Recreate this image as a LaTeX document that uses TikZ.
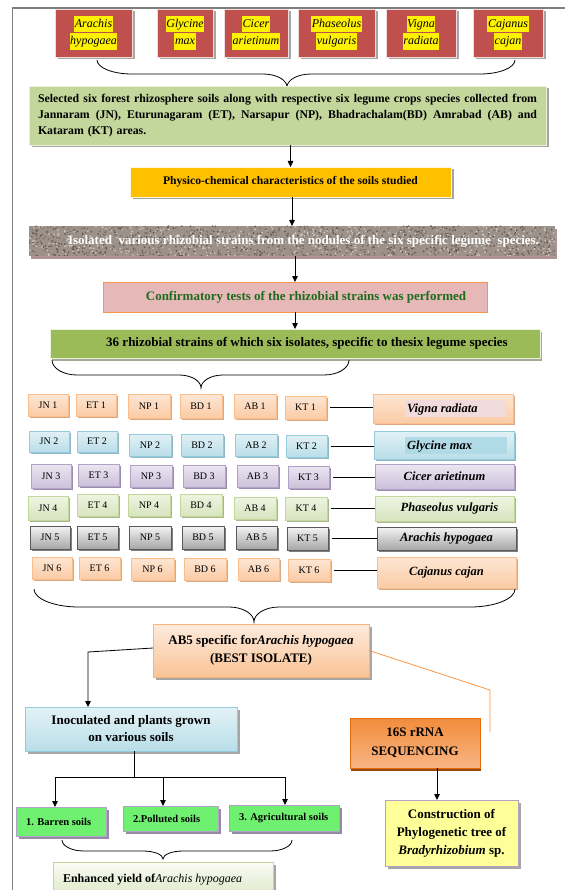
\documentclass[tikz,border=0pt]{standalone}
\usepackage{fontspec}
\setmainfont{Liberation Serif}
\usetikzlibrary{arrows.meta,shadows}
\definecolor{framec}{HTML}{7F7F7F}
\definecolor{cRed}{HTML}{C0504D}
\definecolor{cRedL}{HTML}{F2DCDB}
\definecolor{shGray}{HTML}{A6A6A6}
\definecolor{g1fill}{HTML}{C3D69B}
\definecolor{g1draw}{HTML}{EBF1DE}
\definecolor{yelfill}{HTML}{FFC000}
\definecolor{pinkF}{HTML}{E6B9B8}
\definecolor{pinkB}{HTML}{F79646}
\definecolor{oliveF}{HTML}{9BBB59}
\definecolor{txtgreen}{HTML}{1E6B1E}
\definecolor{granbase}{HTML}{9C928A}
\definecolor{gr0}{HTML}{5E544D}
\definecolor{gr1}{HTML}{D2CAC1}
\definecolor{gr2}{HTML}{7A6F68}
\definecolor{granshadow}{HTML}{B09393}
\definecolor{oT}{HTML}{FDE6D4}
\definecolor{oB}{HTML}{FBCBA5}
\definecolor{oD}{HTML}{F9BE8C}
\definecolor{oS}{HTML}{D6A987}
\definecolor{bT}{HTML}{E2F1F5}
\definecolor{bB}{HTML}{B9DEE9}
\definecolor{bD}{HTML}{93CDDD}
\definecolor{bS}{HTML}{8FB8C4}
\definecolor{pT}{HTML}{EBE6F1}
\definecolor{pB}{HTML}{CCC1DA}
\definecolor{pD}{HTML}{B3A2C7}
\definecolor{pS}{HTML}{9C8DB0}
\definecolor{gT}{HTML}{EEF4E2}
\definecolor{gB}{HTML}{D8E4BE}
\definecolor{gD}{HTML}{C3D69B}
\definecolor{gS}{HTML}{A8B88C}
\definecolor{kT}{HTML}{F4F4F4}
\definecolor{kB}{HTML}{A6A6A6}
\definecolor{kD}{HTML}{595959}
\definecolor{kS}{HTML}{7F7F7F}
\definecolor{hlpink}{HTML}{F2DCDB}
\definecolor{hlblue}{HTML}{B0DAE6}
\definecolor{abT}{HTML}{FDEBDD}
\definecolor{abB}{HTML}{FAC396}
\definecolor{abD}{HTML}{F9B47A}
\definecolor{seqT}{HTML}{F28C3C}
\definecolor{seqB}{HTML}{F9B584}
\definecolor{seqD}{HTML}{E36C09}
\definecolor{seqS}{HTML}{984807}
\definecolor{conF}{HTML}{FFFF99}
\definecolor{soilF}{HTML}{70F070}
\definecolor{enT}{HTML}{FBFCF7}
\definecolor{enB}{HTML}{D7E4BD}
\definecolor{orline}{HTML}{F79646}
\newcommand\fsz[2]{\fontsize{#1}{#2}\selectfont}
\newcommand\yhl[1]{{\fboxsep=0.6pt\colorbox{yellow}{\strut #1}}}
\newcommand\jline[1]{\leavevmode\hbox to 499pt{\spaceskip=0.25em plus 3em minus 0.05em #1}}
\newcommand\mkbox[7][]{\node[#1, minimum width={(#5)-(#3)}, minimum height={(#6)-(#4)}] (#2) at ({((#3)+(#5))/2},{((#4)+(#6))/2}) {#7};}
\newcommand\drawbrace[8]{%
 \draw[brc] (#1,#3) .. controls (#1,{#3+0.552*(#4-#3)}) and ({#1+0.448*#7},#4) .. ({#1+#7},#4)
 -- ({#5-#8},#4) .. controls ({#5-0.448*#8},#4) and (#5,{#4+0.448*(#6-#4)}) .. (#5,#6)
 .. controls (#5,{#4+0.448*(#6-#4)}) and ({#5+0.448*#8},#4) .. ({#5+#8},#4)
 -- ({#2-#7},#4) .. controls ({#2-0.448*#7},#4) and (#2,{#3+0.552*(#4-#3)}) .. (#2,#3);}
\tikzset{
 base/.style={inner sep=0pt, outer sep=0pt, align=center},
 arr/.style={-{Triangle[length=6pt,width=5.5pt]}, line width=0.8pt},
 brc/.style={line width=0.8pt},
 lnk/.style={line width=0.8pt},
 shd/.style={drop shadow={shadow xshift=#1, shadow yshift=-#1, opacity=1, fill=shGray}},
 redbox/.style={base, fill=cRed, draw=cRedL, line width=0.7pt, shd=2.5pt, font=\fsz{12pt}{15pt}\itshape},
 g1box/.style={base, fill=g1fill, draw=g1draw, line width=0.8pt, shd=2.5pt, font=\fsz{11.8pt}{16pt}\bfseries},
 yelbox/.style={base, fill=yelfill, draw=white!85!yelfill, line width=0.8pt, shd=2.5pt, font=\fsz{11.6pt}{14pt}\bfseries},
 granbox/.style={base, font=\fsz{13pt}{15pt}\bfseries, text=white},
 pinkbox/.style={base, fill=pinkF, draw=pinkB, line width=0.7pt, font=\fsz{13pt}{15pt}\bfseries, text=txtgreen},
 olivebox/.style={base, fill=oliveF, draw=g1draw, line width=0.8pt, drop shadow={shadow xshift=1.5pt, shadow yshift=-2.5pt, opacity=1, fill=shGray!80!oliveF}, font=\fsz{13pt}{15pt}\bfseries},
 cell/.style n args={4}{base, top color=#1, bottom color=#2, draw=#3, line width=0.9pt, drop shadow={shadow xshift=2pt, shadow yshift=-2pt, opacity=1, fill=#4}, font=\fsz{10pt}{12pt}},
 oc/.style={cell={oT}{oB}{oD}{oS}},
 bc/.style={cell={bT}{bB}{bD}{bS}},
 pc/.style={cell={pT}{pB}{pD}{pS}},
 gc/.style={cell={gT}{gB}{gD}{gS}},
 kc/.style={cell={kT}{kB}{kD}{kS}},
 spf/.style={font=\fsz{12.5pt}{15pt}\bfseries\itshape},
 ab5box/.style={base, top color=abT, bottom color=abB, draw=abD, line width=0.8pt, shd=2.5pt, font=\fsz{13pt}{18pt}\bfseries},
 inobox/.style={base, top color=white!60!bB, bottom color=bB, draw=bD, line width=0.9pt, shd=2.5pt, font=\fsz{13pt}{17pt}\bfseries},
 seqbox/.style={base, top color=seqT, bottom color=seqB, draw=seqD, line width=0.7pt, drop shadow={shadow xshift=1pt, shadow yshift=-3pt, opacity=1, fill=seqS}, font=\fsz{13pt}{19pt}\bfseries},
 conbox/.style={base, fill=conF, draw=pD, line width=1pt, shd=2.5pt, font=\fsz{13pt}{18pt}\bfseries},
 soilbox/.style={base, fill=soilF, draw=pD, line width=1pt, drop shadow={shadow xshift=2.5pt, shadow yshift=-2.5pt, opacity=1, fill=pS!80!gray}, font=\fsz{10.5pt}{12pt}\bfseries},
 enbox/.style={base, top color=enT, bottom color=enB, draw=gD, line width=1pt, shd=2.5pt, font=\fsz{12pt}{14pt}\bfseries},
}
\begin{document}
\begin{tikzpicture}[x=1pt,y=-1pt]
\useasboundingbox (0,0) rectangle (565,890);
\fill[white] (0,0) rectangle (565,890);
\draw[framec, line width=1.3pt] (12.6,890) -- (12.6,8) -- (565,8);

% top species boxes
\mkbox[redbox]{t1}{55}{9}{132}{57}{\yhl{Arachis}\\\yhl{hypogaea}}
\mkbox[redbox]{t2}{157}{9}{213}{57}{\yhl{Glycine}\\\yhl{max}}
\mkbox[redbox]{t3}{224}{9}{288}{57}{\yhl{Cicer}\\\yhl{arietinum}}
\mkbox[redbox]{t4}{298}{9}{375}{57}{\yhl{Phaseolus}\\\yhl{vulgaris}}
\mkbox[redbox]{t5}{386}{9}{456}{57}{\yhl{Vigna}\\\yhl{radiata}}
\mkbox[redbox]{t6}{473}{9}{543}{57}{\yhl{Cajanus}\\\yhl{cajan}}

\drawbrace{97}{515}{60}{74}{287}{87}{35}{24}

\mkbox[g1box, text width=499pt, align=left]{g1}{29}{86}{546}{145}{%
\jline{Selected six forest rhizosphere soils along with respective six legume crops species collected from}\\
\jline{Jannaram (JN), Eturunagaram (ET), Narsapur (NP), Bhadrachalam(BD) Amrabad (AB) and}\\
Kataram (KT) areas.}

\mkbox[yelbox]{yel}{130}{167}{451}{197}{Physico-chemical characteristics of the soils studied}

% granite box
\fill[granshadow] (31,229) rectangle (557,259);
\begin{scope}
\clip (29,226) rectangle (555,256);
\fill[granbase] (29,226) rectangle (555,256);
\pgfmathsetseed{42}
\foreach \i in {1,...,1500}{
  \pgfmathsetmacro\xx{29+526*rnd}
  \pgfmathsetmacro\yy{226+30*rnd}
  \pgfmathtruncatemacro\kk{mod(\i,3)}
  \fill[color=gr\kk] (\xx,\yy) circle (0.9);
}
\end{scope}
\mkbox[granbox]{gran}{29}{226}{555}{256}{\hspace*{23pt}Isolated\ \ various rhizobial strains from the nodules of the six specific legume\ \ species.}

\mkbox[pinkbox]{pnk}{103}{282}{487}{312}{\hspace*{22pt}Confirmatory tests of the rhizobial strains was performed}
\mkbox[olivebox]{olv}{50}{329}{540}{358}{\hspace*{24pt}36 rhizobial strains of which six isolates, specific to thesix legume species}

\draw[arr] (g1.south -| yel.north) -- (yel.north);
\draw[arr] (yel.south -| gran.north) -- (gran.north);
\draw[arr] (gran.south -| pnk.north) -- (pnk.north);
\draw[arr] (pnk.south -| olv.north) -- (olv.north);

\drawbrace{52}{349}{360}{375}{201}{388}{25}{22}

% grid row 1
\mkbox[oc]{jn1}{28}{394}{68}{416}{JN 1}
\mkbox[oc]{et1}{76}{394}{116}{416}{ET 1}
\mkbox[oc]{np1}{128}{394}{170}{418}{NP 1}
\mkbox[oc]{bd1}{180}{394}{222}{418}{BD 1}
\mkbox[oc]{ab1}{234}{394}{276}{418}{AB 1}
\mkbox[oc]{kt1}{285}{396}{326}{419}{KT 1}
\mkbox[oc, spf]{sp1}{373}{394}{513}{423}{\hspace*{25pt}{\fboxsep=0pt\colorbox{hlpink}{\makebox[101pt][l]{\rule[-4.5pt]{0pt}{17pt}\,Vigna radiata}}}}
% row 2
\mkbox[bc]{jn2}{29}{431}{69}{452}{JN 2}
\mkbox[bc]{et2}{77}{431}{117}{452}{ET 2}
\mkbox[bc]{np2}{129}{434}{171}{456}{NP 2}
\mkbox[bc]{bd2}{181}{434}{223}{456}{BD 2}
\mkbox[bc]{ab2}{235}{434}{277}{456}{AB 2}
\mkbox[bc]{kt2}{286}{435}{327}{457}{KT 2}
\mkbox[bc, spf]{sp2}{374}{431}{514}{459}{\hspace*{24pt}{\fboxsep=0pt\colorbox{hlblue}{\makebox[102pt][l]{\rule[-4.5pt]{0pt}{17pt}\,Glycine max}}}}
% row 3
\mkbox[pc]{jn3}{31}{464}{71}{488}{JN 3}
\mkbox[pc]{et3}{78}{464}{119}{486}{ET 3}
\mkbox[pc]{np3}{130}{465}{172}{487}{NP 3}
\mkbox[pc]{bd3}{183}{465}{225}{487}{BD 3}
\mkbox[pc]{ab3}{237}{465}{278}{487}{AB 3}
\mkbox[pc]{kt3}{288}{466}{329}{488}{KT 3}
\mkbox[pc, spf]{sp3}{375}{464}{514}{489}{Cicer arietinum}
% row 4
\mkbox[gc]{jn4}{28}{496}{68}{520}{JN 4}
\mkbox[gc]{et4}{77}{494}{118}{516}{ET 4}
\mkbox[gc]{np4}{128}{494}{170}{516}{NP 4}
\mkbox[gc]{bd4}{180}{494}{222}{516}{BD 4}
\mkbox[gc]{ab4}{234}{497}{276}{519}{AB 4}
\mkbox[gc]{kt4}{285}{497}{327}{520}{KT 4}
\mkbox[gc, spf]{sp4}{375}{496}{514}{521}{\hspace*{10pt}Phaseolus vulgaris}
% row 5
\mkbox[kc]{jn5}{30}{526}{70}{549}{JN 5}
\mkbox[kc]{et5}{77}{526}{118}{549}{ET 5}
\mkbox[kc]{np5}{129}{526}{171}{549}{NP 5}
\mkbox[kc]{bd5}{182}{526}{224}{549}{BD 5}
\mkbox[kc]{ab5g}{236}{526}{277}{549}{AB 5}
\mkbox[kc]{kt5}{287}{527}{328}{550}{KT 5}
\mkbox[kc, spf]{sp5}{377}{527}{516}{550}{Arachis hypogaea}
% row 6
\mkbox[oc]{jn6}{32}{557}{72}{579}{JN 6}
\mkbox[oc]{et6}{79}{557}{120}{579}{ET 6}
\mkbox[oc]{np6}{131}{558}{174}{580}{NP 6}
\mkbox[oc]{bd6}{184}{558}{226}{580}{BD 6}
\mkbox[oc]{ab6}{238}{558}{279}{580}{AB 6}
\mkbox[oc]{kt6}{288}{559}{330}{581}{KT 6}
\mkbox[oc, spf]{sp6}{377}{557}{516}{588}{Cajanus cajan}

\foreach \r in {1,...,6}{\draw[lnk] (kt\r.east) ++(4,0) -- (kt\r.east -| sp\r.west);}

\drawbrace{34}{515}{589}{607}{254}{622}{45}{25}

\mkbox[ab5box]{ab5}{153}{624}{369}{677}{AB5 specific for\textit{Arachis hypogaea}\\(BEST ISOLATE)}

\mkbox[inobox]{inoc}{25}{707}{237}{751}{Inoculated and plants grown\\on various soils}
\mkbox[seqbox]{seq}{350}{718}{480}{768}{16S rRNA\\SEQUENCING}
\mkbox[conbox]{con}{385}{800}{518}{866}{Construction of\\Phylogenetic tree of\\\textit{Bradyrhizobium} sp.}

\coordinate (c1) at (88,652);
\draw[arr] ([yshift=2.5pt]ab5.west) -- (c1) -- (c1 |- inoc.north);
\coordinate (c2) at (490,690);
\coordinate (c3) at (490,732);
\draw[orline, line width=0.8pt] (ab5.east) -- (c2) -- (c3);
\draw[arr] ([xshift=22pt]seq.south) -- ([xshift=22pt]seq.south |- con.north);

\mkbox[soilbox]{bar}{16}{807}{106}{836}{\makebox[70pt][l]{1. Barren soils}}
\mkbox[soilbox]{pol}{123}{806}{218}{831}{\makebox[75pt][l]{2.Polluted soils}}
\mkbox[soilbox]{agr}{229}{805}{339}{831}{\makebox[90pt][l]{3. Agricultural soils}}

\coordinate (j1) at (134,777);
\coordinate (hl) at (55,777);
\coordinate (hm) at (163,777);
\coordinate (hr) at (285,777);
\draw[lnk] (inoc.south -| j1) -- (j1);
\draw[lnk] (hl) -- (hr);
\draw[arr] (hl) -- (hl |- bar.north);
\draw[arr] (hm) -- (hm |- pol.north);
\draw[arr] (hr) -- (hr |- agr.north);

\drawbrace{62}{292}{840}{851}{163}{859}{22}{20}

\mkbox[enbox]{enh}{53}{862}{273}{902}{\raisebox{8pt}{\makebox[200pt][l]{Enhanced yield of\textmd{\textit{Arachis hypogaea}}}}}
\end{tikzpicture}
\end{document}
